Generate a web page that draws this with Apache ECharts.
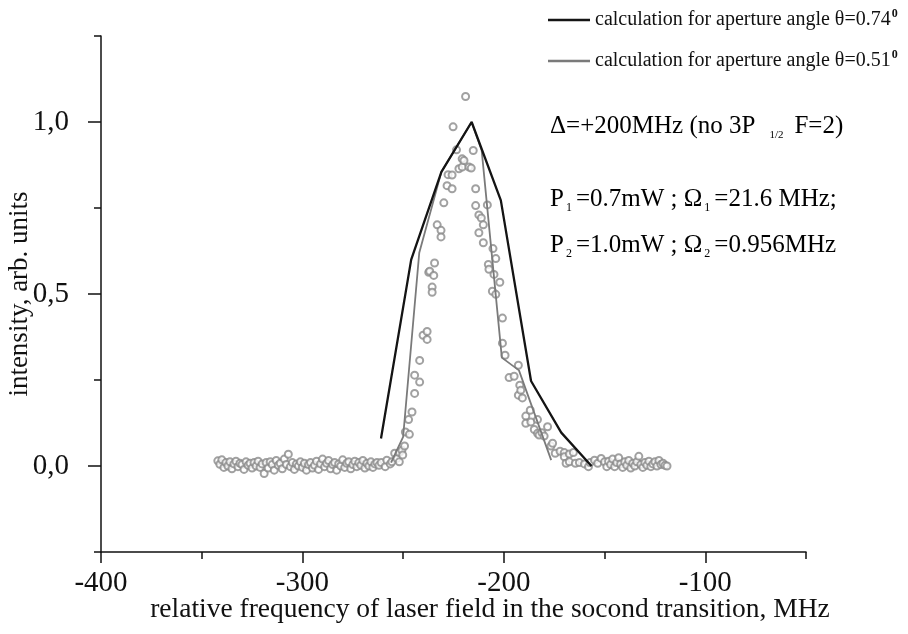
<!DOCTYPE html>
<html>
<head>
<meta charset="utf-8">
<script src="https://cdn.jsdelivr.net/npm/echarts@6/dist/echarts.min.js"></script>
<style>
html,body{margin:0;padding:0;background:#fff;}
#chart{width:908px;height:634px;}
</style>
</head>
<body>
<div id="chart"></div>
<script>
// ---------- data ----------
const xMajorTicks = [-400, -300, -200, -100];
const yMajorTicks = [0, 0.5, 1.0];

const legendNames = ['calculation for aperture angle θ=0.74', 'calculation for aperture angle θ=0.51'];

// calculation, aperture angle 0.74 deg (black)
const calc074 = [[-261, 0.08], [-246, 0.60], [-231, 0.855], [-216, 1.0], [-201.5, 0.772], [-186.5, 0.247], [-171.5, 0.097], [-156.5, 0.0]];
// calculation, aperture angle 0.51 deg (grey)
const calc051 = [[-256, 0.01], [-250, 0.085], [-242, 0.62], [-231, 0.855], [-216, 1.0], [-211, 0.917], [-201, 0.315], [-192.5, 0.278], [-176.5, 0.017]];

// measured points: left baseline
const measuredLeft = [
[-342,0.015],[-341,0.005],[-340,0.018],[-339,-0.004],[-338,0.010],[-337,0.000],[-336,0.012],[-335,-0.008],[-334,0.006],[-333,0.014],
[-332,-0.002],[-331,0.008],[-330,0.004],[-329,-0.010],[-328,0.012],[-327,0.002],[-326,0.008],[-325,-0.006],[-324,0.010],[-323,0.000],
[-322,0.014],[-321,-0.004],[-320,0.006],[-319,-0.022],[-318,0.010],[-317,-0.006],[-316,0.012],[-315,0.004],[-314,-0.012],[-313,0.016],
[-312,0.002],[-311,0.008],[-310,-0.008],[-309,0.020],[-308,0.004],[-307,0.034],[-306,-0.002],[-305,0.010],[-304,-0.010],[-303,0.006],
[-302,0.000],[-301,0.012],[-300,-0.004],[-299,0.008],[-298,-0.012],[-297,0.004],[-296,0.010],[-295,-0.006],[-294,0.002],[-293,0.014],
[-292,-0.010],[-291,0.006],[-290,0.020],[-289,-0.002],[-288,0.008],[-287,0.016],[-286,-0.008],[-285,0.004],[-284,0.010],[-283,-0.012],
[-282,0.006],[-281,0.000],[-280,0.018],[-279,-0.004],[-278,0.008],[-277,0.012],[-276,-0.008],[-275,0.004],[-274,0.014],[-273,-0.002],
[-272,0.010],[-271,0.002],[-270,0.016],[-269,-0.006],[-268,0.008],[-267,0.000],[-266,0.012],[-265,-0.004],[-264,0.006],[-263,0.010],[-262,0.002]
];
// measured points: resonance peak
const measuredPeak = [
[-260.9,0.010],[-258.9,-0.002],[-258.1,0.017],[-256.4,0.006],[-255.6,0.012],[-254.2,0.037],[-253.1,0.022],[-251.9,0.039],[-251.9,0.012],[-250.6,0.046],
[-250.2,0.032],[-249.3,0.058],[-248.9,0.099],[-247.3,0.135],[-246.9,0.092],[-245.6,0.157],[-244.3,0.264],[-244.3,0.211],[-241.8,0.307],[-241.8,0.244],
[-240.1,0.380],[-238.1,0.391],[-238.1,0.368],[-237.3,0.563],[-236.8,0.566],[-235.6,0.520],[-235.6,0.505],[-234.8,0.554],[-234.4,0.590],[-233.1,0.701],
[-231.2,0.685],[-231.2,0.666],[-229.8,0.765],[-228.2,0.815],[-227.7,0.847],[-225.7,0.846],[-225.7,0.806],[-225.2,0.986],[-223.5,0.919],[-222.3,0.864],
[-220.7,0.893],[-220.7,0.869],[-219.8,0.888],[-219.0,1.074],[-217.3,0.869],[-216.2,0.866],[-215.2,0.917],[-214.0,0.806],[-214.0,0.757],[-212.4,0.730],
[-212.4,0.678],[-211.2,0.721],[-210.2,0.701],[-210.2,0.649],[-208.2,0.759],[-207.7,0.586],[-207.4,0.572],[-205.7,0.508],[-205.4,0.632],[-204.9,0.557],
[-204.0,0.603],[-204.0,0.499],[-202.0,0.534],[-200.7,0.430],[-200.7,0.357],[-199.4,0.322],[-197.4,0.257],[-194.9,0.261],[-192.8,0.293],[-192.8,0.206],
[-192.1,0.235],[-191.6,0.220],[-190.8,0.198],[-189.1,0.145],[-189.1,0.124],[-186.9,0.162],[-186.6,0.128],[-184.9,0.106],[-183.3,0.135],[-183.3,0.095],
[-182.5,0.090],[-181.1,0.097],[-180.0,0.087],[-178.3,0.114],[-176.6,0.058],[-175.8,0.066],[-174.5,0.037],[-172.1,0.043],[-170.0,0.039],[-170.0,0.027],
[-169.1,0.008],[-167.5,0.035],[-167.5,0.012],[-165.5,0.039],[-164.5,0.008],[-162.5,0.010],[-160.0,0.006],[-158.0,-0.002],[-157.2,0.010],[-155.0,0.017],
[-153.4,0.008],[-151.7,0.022],[-150.0,0.012],[-148.9,-0.002]
];
// measured points: right baseline
const measuredRight = [
[-148,0.014],[-147,0.004],[-146,0.020],[-145,-0.002],[-144,0.010],[-143,0.024],[-142,0.006],[-141,-0.004],[-140,0.012],[-139,0.002],
[-138,0.016],[-137,-0.006],[-136,0.008],[-135,0.000],[-134,0.012],[-133,0.028],[-132,0.004],[-131,-0.004],[-130,0.010],[-129,0.002],
[-128,0.014],[-127,-0.002],[-126,0.006],[-125,0.012],[-124,0.000],[-123,0.016],[-122,0.004],[-121,0.008],[-120,0.002],[-119,0.000]
];

// ---------- chart ----------
const SERIF = '"Liberation Serif", "Times New Roman", serif';
const chart = echarts.init(document.getElementById('chart'), null, {renderer: 'canvas'});
const commaFmt = v => v.toFixed(1).replace('.', ',');

const axisLineStyle = {color: '#111', width: 1.5};

const option = {
  backgroundColor: '#fff',
  animation: false,
  grid: {left: 101, right: 102, top: 36, bottom: 82, containLabel: false},
  xAxis: [
    {type: 'value', min: -400, max: -50, interval: 50, position: 'bottom',
     axisLine: {show: true, onZero: false, lineStyle: axisLineStyle},
     axisTick: {show: true, inside: false, length: 7, lineStyle: axisLineStyle},
     axisLabel: {show: false}, splitLine: {show: false}},
    {type: 'value', min: -400, max: -50, interval: 50, position: 'bottom',
     axisLine: {show: false, onZero: false},
     axisTick: {show: true, inside: false, length: 11, customValues: xMajorTicks, lineStyle: axisLineStyle},
     axisLabel: {show: true, customValues: xMajorTicks, margin: 17, color: '#111', fontFamily: SERIF, fontSize: 29},
     splitLine: {show: false}}
  ],
  yAxis: [
    {type: 'value', min: -0.25, max: 1.25, interval: 0.25, position: 'left',
     axisLine: {show: true, onZero: false, lineStyle: axisLineStyle},
     axisTick: {show: true, inside: false, length: 7, lineStyle: axisLineStyle},
     axisLabel: {show: false}, splitLine: {show: false}},
    {type: 'value', min: -0.25, max: 1.25, interval: 0.25, position: 'left',
     axisLine: {show: false, onZero: false},
     axisTick: {show: true, inside: false, length: 13, customValues: yMajorTicks, lineStyle: axisLineStyle},
     axisLabel: {show: true, customValues: yMajorTicks, margin: 32, formatter: commaFmt, color: '#111', fontFamily: SERIF, fontSize: 29},
     splitLine: {show: false}}
  ],
  legend: {
    orient: 'vertical', left: 548, top: 8, padding: 0, itemWidth: 42, itemHeight: 2.5, itemGap: 19,
    data: [
      {name: legendNames[0], icon: 'rect', itemStyle: {color: '#141414'}},
      {name: legendNames[1], icon: 'rect', itemStyle: {color: '#7a7a7a'}}
    ],
    formatter: name => '{m|' + name + '}{sup|0}',
    textStyle: {color: '#111', fontFamily: SERIF, fontSize: 20,
      rich: {
        m: {fontFamily: SERIF, fontSize: 20, lineHeight: 24, color: '#111'},
        sup: {fontFamily: SERIF, fontSize: 12, fontWeight: 'bold', lineHeight: 12, verticalAlign: 'top', color: '#111', padding: [0, 0, 0, 1]}
      }}
  },
  series: [
    {name: 'measured', type: 'scatter', xAxisIndex: 0, yAxisIndex: 0,
     data: measuredLeft.concat(measuredPeak, measuredRight),
     symbol: 'emptyCircle', symbolSize: 7,
     itemStyle: {color: '#8a8a8a', borderWidth: 1},
     z: 2},
    {name: legendNames[0], type: 'line', xAxisIndex: 0, yAxisIndex: 0, data: calc074,
     showSymbol: false, symbol: 'none',
     lineStyle: {color: '#141414', width: 2.3}, itemStyle: {color: '#141414'}, z: 4},
    {name: legendNames[1], type: 'line', xAxisIndex: 0, yAxisIndex: 0, data: calc051,
     showSymbol: false, symbol: 'none',
     lineStyle: {color: '#7a7a7a', width: 1.8}, itemStyle: {color: '#7a7a7a'}, z: 3}
  ],
  graphic: [
    {type: 'text', x: 550, y: 126, z: 10,
     style: {text: '{m|Δ=+200MHz (no 3P}{subw|1/2}{m|F=2)}', verticalAlign: 'middle', align: 'left',
       rich: {
         m: {fontFamily: SERIF, fontSize: 25, lineHeight: 30, color: '#111'},
         subw: {fontFamily: SERIF, fontSize: 11, lineHeight: 12, verticalAlign: 'bottom', color: '#111', padding: [0, 11, 0, 14]}
       }}},
    {type: 'text', x: 550, y: 199, z: 10,
     style: {text: '{m|P}{sub|1}{m|=0.7mW ; Ω}{sub|1}{m|=21.6 MHz;}', verticalAlign: 'middle', align: 'left',
       rich: {
         m: {fontFamily: SERIF, fontSize: 25, lineHeight: 30, color: '#111'},
         sub: {fontFamily: SERIF, fontSize: 12, lineHeight: 12, verticalAlign: 'bottom', color: '#111', padding: [0, 4, 0, 2]}
       }}},
    {type: 'text', x: 550, y: 245, z: 10,
     style: {text: '{m|P}{sub|2}{m|=1.0mW ; Ω}{sub|2}{m|=0.956MHz}', verticalAlign: 'middle', align: 'left',
       rich: {
         m: {fontFamily: SERIF, fontSize: 25, lineHeight: 30, color: '#111'},
         sub: {fontFamily: SERIF, fontSize: 12, lineHeight: 12, verticalAlign: 'bottom', color: '#111', padding: [0, 4, 0, 2]}
       }}},
    {type: 'text', x: 490, y: 610, z: 10,
     style: {text: 'relative frequency of laser field in the socond transition, MHz', align: 'center', verticalAlign: 'middle',
       font: '27.5px ' + SERIF, fill: '#111'}},
    {type: 'text', x: 20, y: 294, rotation: Math.PI / 2, z: 10,
     style: {text: 'intensity, arb. units', align: 'center', verticalAlign: 'middle',
       font: '27px ' + SERIF, fill: '#111'}}
  ]
};
chart.setOption(option);
</script>
</body>
</html>
